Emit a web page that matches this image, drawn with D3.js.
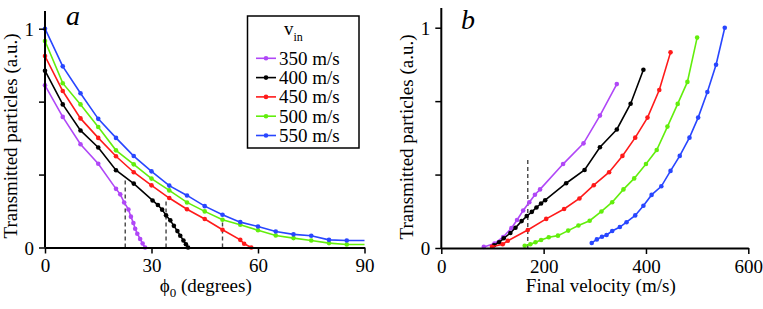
<!DOCTYPE html>
<html>
<head>
<meta charset="utf-8">
<script src="https://cdn.jsdelivr.net/npm/d3@7"></script>
<style>
  body { margin: 0; background: #fff; }
  svg text { font-family: "Liberation Serif", "Times New Roman", Times, "DejaVu Serif", serif !important; }
</style>
</head>
<body>
<svg id="chart" width="763" height="309"></svg>
<script>
// series labels / colours
const speeds = ["350 m/s", "400 m/s", "450 m/s", "500 m/s", "550 m/s"];
const colors = ["#b047f7", "#000000", "#ff1a1a", "#62ee0c", "#2846ff"];

// panel a: injection angle phi0 (deg) vs transmitted particles
const phi350 = [0, 5, 10, 15, 20, 21.2, 22.3, 23.5, 24.2, 24.9, 25.4, 26.0, 26.8, 27.5, 28.2];
const t350a = [0.741, 0.597, 0.472, 0.383, 0.268, 0.243, 0.206, 0.174, 0.141, 0.112, 0.086, 0.063, 0.039, 0.018, 0];
const phi400 = [0, 5, 10, 15, 20, 25, 30.3, 31.8, 33.0, 34.1, 35.3, 36.3, 37.3, 38.1, 39.0, 39.7, 40.3];
const t400a = [0.808, 0.654, 0.535, 0.457, 0.353, 0.292, 0.215, 0.194, 0.173, 0.147, 0.124, 0.099, 0.075, 0.054, 0.032, 0.015, 0];
const phi450 = [0, 5, 10, 15, 20, 25, 30, 35, 40, 45, 50, 55, 56.1, 58.1];
const t450a = [0.875, 0.715, 0.590, 0.501, 0.417, 0.344, 0.284, 0.226, 0.175, 0.130, 0.081, 0.035, 0.017, 0];
const phiFull = [0, 5, 10, 15, 20, 25, 30, 35, 40, 45, 50, 55, 60, 65, 70, 75, 80, 85, 90];
const t500a = [0.944, 0.751, 0.654, 0.551, 0.444, 0.380, 0.315, 0.261, 0.206, 0.165, 0.127, 0.104, 0.079, 0.055, 0.043, 0.032, 0.020, 0.014, 0.014];
const t550a = [1.0, 0.828, 0.705, 0.588, 0.501, 0.418, 0.348, 0.283, 0.238, 0.189, 0.150, 0.116, 0.096, 0.073, 0.060, 0.054, 0.035, 0.032, 0.032];
const cutoffsA = [[22.6, 0.32], [34.1, 0.21], [50.0, 0.117]];

// panel b: final velocity (m/s) vs transmitted particles
const v350 = [83, 104, 121, 137, 148, 160, 172, 183, 193, 238, 278, 310, 343];
const t350b = [0.005, 0.02, 0.05, 0.09, 0.127, 0.17, 0.208, 0.242, 0.266, 0.381, 0.475, 0.601, 0.744];
const v400 = [103, 113, 122, 135, 145, 157, 167, 177, 186, 195, 203, 244, 280, 310, 343, 370, 395];
const t400b = [0.012, 0.026, 0.044, 0.068, 0.092, 0.122, 0.145, 0.164, 0.184, 0.202, 0.217, 0.294, 0.354, 0.457, 0.538, 0.655, 0.809];
const v450 = [99, 120, 130, 169, 205, 240, 270, 298, 328, 354, 379, 403, 426, 448];
const t450b = [0.006, 0.017, 0.033, 0.082, 0.132, 0.177, 0.225, 0.285, 0.344, 0.418, 0.501, 0.592, 0.717, 0.888];
const v500 = [163, 174, 184, 195, 210, 228, 248, 268, 290, 313, 334, 356, 377, 400, 421, 442, 462, 481, 500];
const t500b = [0.010, 0.017, 0.026, 0.036, 0.049, 0.056, 0.079, 0.102, 0.124, 0.166, 0.208, 0.266, 0.316, 0.381, 0.445, 0.551, 0.654, 0.754, 0.955];
const v550 = [294, 304, 314, 323, 334, 349, 362, 379, 395, 411, 430, 448, 466, 485, 502, 520, 537, 554];
const t550b = [0.023, 0.039, 0.051, 0.059, 0.077, 0.095, 0.117, 0.148, 0.192, 0.241, 0.280, 0.350, 0.418, 0.501, 0.592, 0.708, 0.832, 1.0];
const cutoffsB = [[169, 0.40]];

const yTicks = [0, 1 / 3, 2 / 3, 1];
const xTicksA = [0, 30, 60, 90];
const xTicksB = [0, 200, 400, 600];

const svg = d3.select("#chart");

function zip(xs, ys) {
  return xs.map((x, i) => [x, ys[i]]);
}

function drawPanel(opts) {
  const { xScale, yScale, yTop, series, cutoffs, xTicks, xLabel, letter, letterPos, yLabelPos, noMarkerX } = opts;
  const g = svg.append("g");

  // dashed cutoff markers
  cutoffs.forEach(([cx, cy]) => {
    g.append("line")
      .attr("x1", xScale(cx)).attr("x2", xScale(cx))
      .attr("y1", yScale(0)).attr("y2", yScale(cy))
      .attr("stroke", "#444").attr("stroke-width", 1.4)
      .attr("stroke-dasharray", "4,3");
  });

  const line = d3.line().x(d => xScale(d[0])).y(d => yScale(d[1]));

  series.forEach((pts, i) => {
    g.append("path")
      .attr("d", line(pts))
      .attr("fill", "none")
      .attr("stroke", colors[i])
      .attr("stroke-width", 1.6);
    g.selectAll(null)
      .data(pts.filter(d => d[0] !== noMarkerX))
      .enter()
      .append("circle")
      .attr("cx", d => xScale(d[0]))
      .attr("cy", d => yScale(d[1]))
      .attr("r", 2.3)
      .attr("fill", colors[i]);
  });

  // axes
  const yAxis = d3.axisLeft(yScale)
    .tickValues(yTicks)
    .tickFormat(d => (d === 0 ? "0" : d === 1 ? "1" : ""))
    .tickSize(6).tickPadding(5).tickSizeOuter(0);
  const yg = g.append("g")
    .attr("transform", `translate(${xScale.range()[0]},0)`)
    .call(yAxis);
  yg.select(".domain").remove();
  yg.append("line")
    .attr("x1", 0).attr("x2", 0)
    .attr("y1", yScale(0)).attr("y2", yTop)
    .attr("stroke", "#000").attr("stroke-width", 2);

  const xAxis = d3.axisBottom(xScale)
    .tickValues(xTicks)
    .tickSize(6).tickPadding(4).tickSizeOuter(0);
  const xg = g.append("g")
    .attr("transform", `translate(0,${yScale(0)})`)
    .call(xAxis);
  xg.select(".domain").attr("stroke-width", 2);

  [yg, xg].forEach(a => {
    a.attr("font-family", null);
    a.selectAll(".tick line").attr("stroke-width", 1.5);
    a.selectAll("text")
      .attr("font-size", 19)
      .attr("fill", "#000");
  });
  yg.selectAll("text").attr("dy", "0.35em");
  xg.selectAll("text").attr("dy", "0.78em");

  // labels
  const xMid = (xScale.range()[0] + xScale.range()[1]) / 2;
  const xl = g.append("text")
    .attr("x", xMid + opts.xLabelShift)
    .attr("y", 292)
    .attr("text-anchor", "middle")
    .attr("font-size", 19);
  xLabel(xl);

  g.append("text")
    .attr("transform", `translate(${yLabelPos[0]},${yLabelPos[1]}) rotate(-90)`)
    .attr("text-anchor", "middle")
    .attr("font-size", 19)
    .text("Transmitted particles (a.u.)");

  g.append("text")
    .attr("x", letterPos[0]).attr("y", letterPos[1])
    .attr("font-size", 28)
    .attr("font-style", "italic")
    .text(letter);
}

const xA = d3.scaleLinear().domain([0, 90]).range([45, 364.5]);
const yA = d3.scaleLinear().domain([0, 1]).range([247.5, 28.7]);
drawPanel({
  xScale: xA, yScale: yA, yTop: 11,
  series: [zip(phi350, t350a), zip(phi400, t400a), zip(phi450, t450a), zip(phiFull, t500a), zip(phiFull, t550a)],
  cutoffs: cutoffsA,
  xTicks: xTicksA,
  noMarkerX: 90,
  xLabelShift: 1,
  xLabel: t => {
    t.append("tspan").text("\u03d5");
    t.append("tspan").attr("font-size", 13).attr("dy", 5).text("0");
    t.append("tspan").attr("dy", -5).text(" (degrees)");
  },
  letter: "a", letterPos: [66, 25],
  yLabelPos: [17, 136]
});

const xB = d3.scaleLinear().domain([0, 600]).range([441.3, 748.3]);
const yB = d3.scaleLinear().domain([0, 1]).range([248, 27.7]);
drawPanel({
  xScale: xB, yScale: yB, yTop: 8,
  series: [zip(v350, t350b), zip(v400, t400b), zip(v450, t450b), zip(v500, t500b), zip(v550, t550b)],
  cutoffs: cutoffsB,
  xTicks: xTicksB,
  noMarkerX: null,
  xLabelShift: 6,
  xLabel: t => t.text("Final velocity (m/s)"),
  letter: "b", letterPos: [461, 29],
  yLabelPos: [413, 137]
});

// legend (panel a)
const legend = svg.append("g");
legend.append("rect")
  .attr("x", 247.5).attr("y", 16)
  .attr("width", 111.5).attr("height", 132)
  .attr("fill", "#fff").attr("stroke", "#000").attr("stroke-width", 1.5);
const vin = legend.append("text").attr("x", 284).attr("y", 35).attr("font-size", 19);
vin.append("tspan").text("v");
vin.append("tspan").attr("font-size", 12).attr("dy", 6).text("in");

speeds.forEach((s, i) => {
  const cy = 58.3 + i * 19.3;
  legend.append("line")
    .attr("x1", 256).attr("x2", 276)
    .attr("y1", cy).attr("y2", cy)
    .attr("stroke", colors[i]).attr("stroke-width", 1.6);
  legend.append("circle")
    .attr("cx", 266).attr("cy", cy).attr("r", 2.3)
    .attr("fill", colors[i]);
  legend.append("text")
    .attr("x", 279).attr("y", cy + 6.5)
    .attr("font-size", 19)
    .text(s);
});
</script>
</body>
</html>
